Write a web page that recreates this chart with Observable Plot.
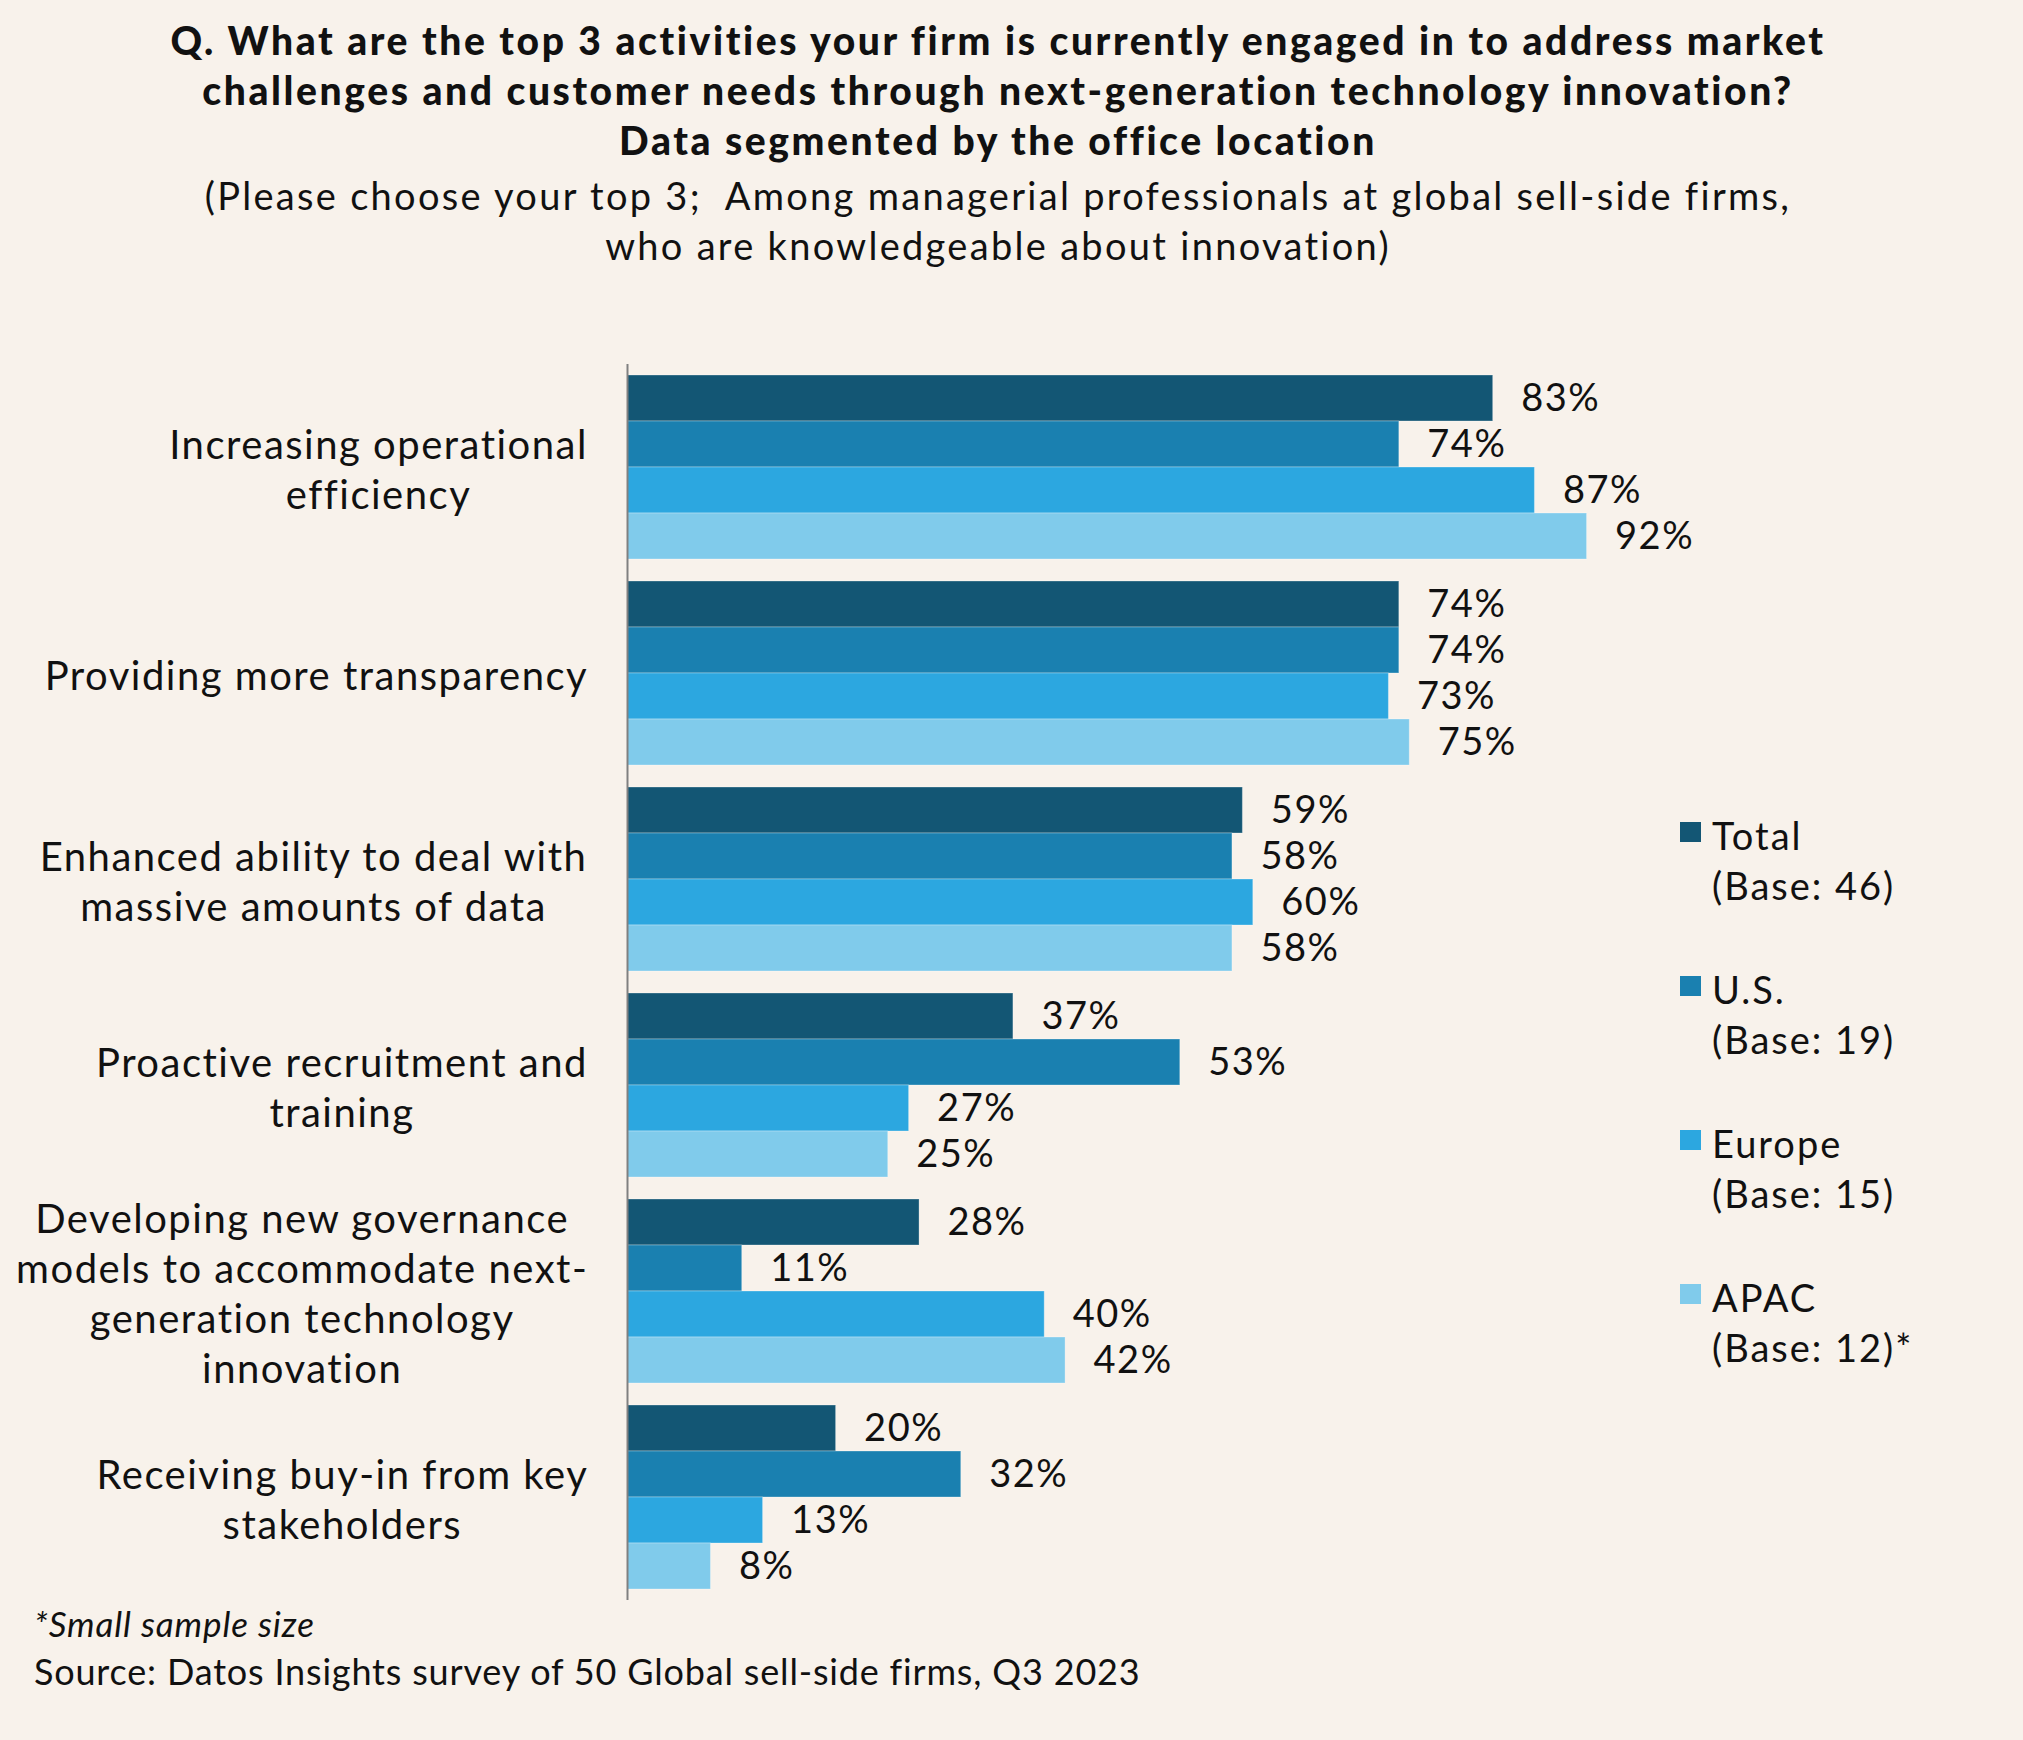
<!DOCTYPE html>
<html>
<head>
<meta charset="utf-8">
<script src="https://cdn.jsdelivr.net/npm/d3@7"></script>
<script src="https://cdn.jsdelivr.net/npm/@observablehq/plot@0.6"></script>
<style>
  html, body { margin: 0; padding: 0; background: #f8f2eb; }
  body { width: 2023px; height: 1740px; position: relative; overflow: hidden; font-family: Lato, sans-serif; color: #111; }
  #title { position: absolute; top: 15px; left: 0; width: 1996px; text-align: center; font-weight: 900; font-size: 39px; line-height: 50px; letter-spacing: 2.6px; white-space: nowrap; }
  #subtitle { position: absolute; top: 170px; left: 0; width: 1996px; text-align: center; font-weight: 400; font-size: 38px; line-height: 50px; letter-spacing: 2.3px; white-space: nowrap; }
  #chart { position: absolute; top: 300px; left: 0; }
  .legend-item { position: absolute; left: 1680px; font-size: 38px; line-height: 50px; letter-spacing: 2px; }
  .legend-item .sw { position: absolute; left: 0; top: 12px; width: 21px; height: 20px; }
  .legend-item .lbl { position: absolute; left: 32px; top: 0; white-space: nowrap; }
  #note { position: absolute; left: 34px; top: 1598px; font-size: 35px; font-style: italic; line-height: 50px; letter-spacing: 0.9px; }
  #source { position: absolute; left: 34px; top: 1646px; font-size: 36px; line-height: 50px; letter-spacing: 0.82px; white-space: nowrap; }
</style>
</head>
<body>
<div id="title">Q. What are the top 3 activities your firm is currently engaged in to address market<br>challenges and customer needs through next-generation technology innovation?<br>Data segmented by the office location</div>
<div id="subtitle">(Please choose your top 3;&nbsp; Among managerial professionals at global sell-side firms,<br>who are knowledgeable about innovation)</div>
<div id="chart"></div>
<div id="legend"></div>
<div id="note">*Small sample size</div>
<div id="source">Source: Datos Insights survey of 50 Global sell-side firms, Q3 2023</div>
<script>
const categories = [
  "Increasing operational\nefficiency",
  "Providing more transparency",
  "Enhanced ability to deal with\nmassive amounts of data",
  "Proactive recruitment and\ntraining",
  "Developing new governance\nmodels to accommodate next-\ngeneration technology\ninnovation",
  "Receiving buy-in from key\nstakeholders"
];
const series = ["Total", "U.S.", "Europe", "APAC"];
const seriesBases = ["(Base: 46)", "(Base: 19)", "(Base: 15)", "(Base: 12)*"];
const seriesColors = ["#135674", "#1a80b0", "#2ca7e0", "#80cbeb"];
const totalValues  = [83, 74, 59, 37, 28, 20];
const usValues     = [74, 74, 58, 53, 11, 32];
const europeValues = [87, 73, 60, 27, 40, 13];
const apacValues   = [92, 75, 58, 25, 42, 8];

const valuesBySeries = [totalValues, usValues, europeValues, apacValues];
const rows = [];
categories.forEach((c, i) => {
  series.forEach((s, j) => rows.push({category: c, series: s, value: valuesBySeries[j][i]}));
});

// measure label widths for centered multi-line, right-aligned block
const ctx = document.createElement("canvas").getContext("2d");
const labelFont = 40;
const letterSpacing = 1.5;
ctx.font = `${labelFont}px Lato`;
const blockWidth = c => Math.max(...c.split("\n").map(l => ctx.measureText(l).width + letterSpacing * (l.length - 1)));

const labelMarks = categories.map(c => Plot.text([c], {
  fy: d => d, text: d => d, frameAnchor: "left", textAnchor: "middle",
  dx: -(40 + blockWidth(c) / 2), fontSize: labelFont, lineHeight: 1.25, fill: "#111"
}));

const chart = Plot.plot({
  width: 2023, height: 1320,
  marginLeft: 627, marginRight: 353, marginTop: 75, marginBottom: 31,
  style: {background: "transparent", fontFamily: "Lato, sans-serif", color: "#111", overflow: "visible", letterSpacing: letterSpacing + "px"},
  x: {domain: [0, 100], axis: null},
  y: {domain: series, padding: 0, axis: null},
  fy: {domain: categories, paddingInner: 0.107, paddingOuter: 0, axis: null},
  color: {domain: series, range: seriesColors},
  marks: [
    Plot.barX(rows, {x: "value", y: "series", fy: "category", fill: "series", stroke: "#ffffff", strokeOpacity: 0.3, strokeWidth: 1}),
    Plot.text(rows, {x: "value", y: "series", fy: "category", text: d => d.value + "%", textAnchor: "start", dx: 28, fontSize: 38, fill: "#111"}),
    ...labelMarks,
    Plot.ruleX([0], {stroke: "#808080", strokeWidth: 2, insetTop: -11, insetBottom: -11})
  ]
});
document.getElementById("chart").appendChild(chart);

// legend
const legend = document.getElementById("legend");
series.forEach((s, i) => {
  const item = document.createElement("div");
  item.className = "legend-item";
  item.style.top = (810 + i * 154) + "px";
  item.innerHTML = `<div class="sw" style="background:${seriesColors[i]}"></div><div class="lbl">${s}<br>${seriesBases[i]}</div>`;
  legend.appendChild(item);
});
</script>
</body>
</html>
